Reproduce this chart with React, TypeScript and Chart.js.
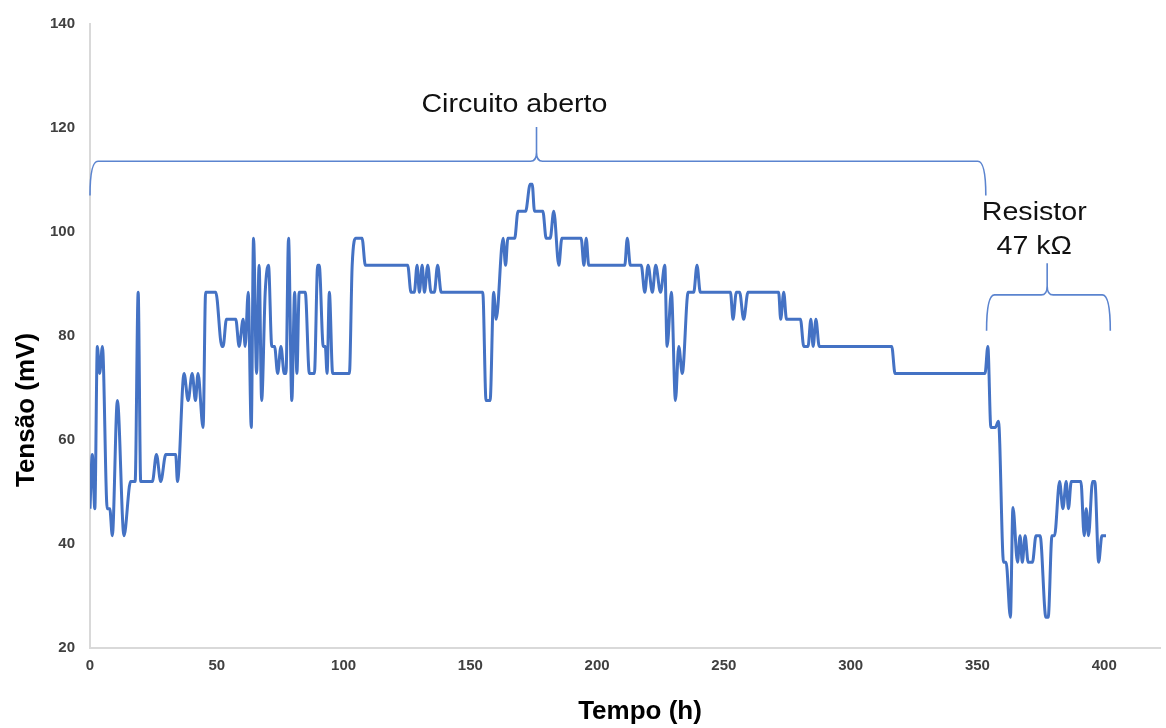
import React, { useEffect, useRef } from "react";
import { Chart, registerables } from "chart.js";

Chart.register(...registerables);

// Time (h)
const hours = [
  0, 0.9, 1.9, 2.9, 3.8, 4.9, 6.8, 7.8, 8.8, 10.8, 13.4, 16.0, 17.8, 19.0, 20.0,
  24.6, 26.2, 27.9, 29.9, 33.8, 34.5, 37.1, 38.7, 40.3, 41.6, 42.6, 44.6, 45.6,
  49.6, 52.0, 52.5, 53.8, 57.5, 58.8, 60.4, 61.2, 62.4, 63.6, 64.5, 65.7, 66.7,
  67.7, 69.1, 70.4, 71.7, 72.8, 74.0, 75.3, 76.6, 77.3, 78.3, 79.6, 80.7, 81.6,
  82.5, 84.9, 86.5, 88.5, 89.8, 90.4, 92.0, 92.8, 93.5, 94.4, 95.7, 102.3, 103.4,
  104.9, 107.3, 108.6, 125.3, 126.6, 127.9, 129.0, 129.9, 131.0, 131.9, 133.2,
  134.5, 135.8, 137.1, 138.5, 154.9, 156.2, 157.8, 159.2, 160.2, 162.9, 163.9,
  164.8, 167.5, 168.8, 171.8, 173.6, 174.4, 175.3, 178.6, 179.9, 181.5, 182.9,
  184.9, 186.1, 193.7, 194.8, 195.7, 196.7, 210.9, 211.9, 213.1, 217.4, 218.8,
  220.1, 221.8, 223.1, 225.0, 226.7, 227.6, 229.3, 230.9, 232.2, 233.6, 235.9,
  238.1, 239.4, 240.7, 252.6, 253.6, 254.9, 256.2, 257.8, 259.5, 271.6, 272.4,
  273.6, 274.7, 280.2, 281.5, 283.2, 284.3, 285.2, 286.3, 287.6, 316.2, 317.5,
  353.0, 354.1, 355.3, 357.0, 358.3, 360.3, 361.3, 363.0, 364.0, 365.8, 366.8,
  367.7, 368.8, 370.0, 371.7, 373.1, 374.7, 377.0, 377.9, 379.4, 380.4, 382.4,
  383.7, 385.0, 385.9, 387.0, 390.8, 392.1, 392.9, 393.8, 395.4, 396.3, 397.8,
  399.1, 400.7,
];

// Tensão (mV)
const tension = [
  46.8, 57.2, 46.8, 78.0, 72.8, 78.0, 46.8, 46.8, 41.6, 67.6, 41.6, 52.0, 52.0, 88.4, 52.0,
  52.0, 57.2, 52.0, 57.2, 57.2, 52.0, 72.8, 67.6, 72.8, 67.6, 72.8, 62.4, 88.4,
  88.4, 78.0, 78.0, 83.2, 83.2, 78.0, 83.2, 78.0, 88.4, 62.4, 98.8, 72.8, 93.6,
  67.6, 88.4, 93.6, 78.0, 78.0, 72.8, 78.0, 72.8, 72.8, 98.8, 67.6, 88.4, 72.8,
  88.4, 88.4, 72.8, 72.8, 93.6, 93.6, 78.0, 78.0, 72.8, 88.4, 72.8, 72.8, 93.6,
  98.8, 98.8, 93.6, 93.6, 88.4, 88.4, 93.6, 88.4, 93.6, 88.4, 93.6,
  88.4, 88.4, 93.6, 88.4, 88.4, 67.6, 67.6, 88.4, 83.2, 98.8, 93.6,
  98.8, 98.8, 104.0, 104.0, 109.2, 109.2, 104.0, 104.0, 98.8, 98.8, 104.0,
  93.6, 98.8, 98.8, 93.6, 98.8, 93.6, 93.6, 98.8, 93.6, 93.6, 88.4,
  93.6, 88.4, 93.6, 88.4, 93.6, 78.0, 88.4, 67.6, 78.0, 72.8, 88.4,
  88.4, 93.6, 88.4, 88.4, 83.2, 88.4, 88.4, 83.2, 88.4, 88.4, 83.2,
  88.4, 83.2, 83.2, 78.0, 78.0, 83.2, 78.0, 83.2, 78.0, 78.0, 72.8,
  72.8, 78.0, 62.4, 62.4, 63.6, 36.5, 36.5, 25.9, 47.0, 36.5, 41.6,
  36.5, 41.6, 36.5, 36.5, 41.6, 41.6, 25.9, 25.9, 41.6, 41.6, 52.0,
  46.8, 52.0, 46.8, 52.0, 52.0, 41.6, 46.8, 41.6, 52.0, 52.0, 36.5,
  41.6, 41.6,
];

const xTicks = [0, 50, 100, 150, 200, 250, 300, 350, 400];
const yTicks = [20, 40, 60, 80, 100, 120, 140];

// Annotation braces (data units): start, end, tip x, baseline, end y, tip y
const braceStarts = [0, 353.6];
const braceEnds = [353.3, 402.4];
const braceTips = [176.1, 377.5];
const braceBase = [113.6, 87.9];
const braceEndY = [107.0, 81.0];
const braceTipY = [120.2, 94.0];

const noteTexts = ["Circuito aberto", "Resistor", "47 kΩ"];
const noteX = [167.4, 372.4, 372.4];
const noteY = [124.5, 103.6, 97.1];

const FONT = "'Liberation Sans', Arial, Helvetica, sans-serif";

export default function App() {
  const ref = useRef<HTMLCanvasElement | null>(null);

  useEffect(() => {
    if (!ref.current) return;
    const annot = {
      id: "annot",
      afterDraw(chart: any) {
        const { ctx } = chart;
        const xs = chart.scales.x;
        const ys = chart.scales.y;
        ctx.save();
        ctx.strokeStyle = "#5B84CF";
        ctx.lineWidth = 1.6;
        for (let i = 0; i < braceStarts.length; i++) {
          const x0 = xs.getPixelForValue(braceStarts[i]);
          const x1 = xs.getPixelForValue(braceEnds[i]);
          const xt = xs.getPixelForValue(braceTips[i]);
          const yb = ys.getPixelForValue(braceBase[i]);
          const ye = ys.getPixelForValue(braceEndY[i]);
          const yt = ys.getPixelForValue(braceTipY[i]);
          ctx.beginPath();
          ctx.moveTo(x0, ye);
          ctx.quadraticCurveTo(x0, yb, x0 + 8, yb);
          ctx.lineTo(xt - 6, yb);
          ctx.quadraticCurveTo(xt, yb, xt, yb - 9);
          ctx.lineTo(xt, yt);
          ctx.moveTo(xt, yb - 9);
          ctx.quadraticCurveTo(xt, yb, xt + 6, yb);
          ctx.lineTo(x1 - 8, yb);
          ctx.quadraticCurveTo(x1, yb, x1, ye);
          ctx.stroke();
        }
        ctx.fillStyle = "#111";
        ctx.textAlign = "center";
        ctx.textBaseline = "middle";
        for (let i = 0; i < noteTexts.length; i++) {
          const px = xs.getPixelForValue(noteX[i]);
          const py = ys.getPixelForValue(noteY[i]);
          ctx.save();
          ctx.translate(px, py);
          ctx.scale(1.1, 1);
          ctx.font = `26px ${FONT}`;
          ctx.fillText(noteTexts[i], 0, 0);
          ctx.restore();
        }
        // axis titles
        ctx.fillStyle = "#000";
        ctx.font = `bold 26px ${FONT}`;
        ctx.fillText("Tempo (h)", 640, 712);
        ctx.translate(27, 410);
        ctx.rotate(-Math.PI / 2);
        ctx.fillText("Tensão (mV)", 0, 0);
        ctx.restore();
      },
    };

    const chart = new Chart(ref.current, {
      type: "line",
      data: {
        datasets: [
          {
            data: hours.map((h, i) => ({ x: h, y: tension[i] })),
            borderColor: "#4472C4",
            borderWidth: 3,
            pointRadius: 0,
            cubicInterpolationMode: "monotone",
            fill: false,
          },
        ],
      },
      options: {
        responsive: false,
        animation: false,
        devicePixelRatio: 1,
        layout: { padding: { left: 0, right: 6, top: 22, bottom: 0 } },
        plugins: { legend: { display: false }, tooltip: { enabled: false } },
        scales: {
          x: {
            type: "linear",
            min: 0,
            max: 422,
            afterBuildTicks: (s: any) => {
              s.ticks = xTicks.map((v) => ({ value: v }));
            },
            afterFit: (s: any) => {
              s.height = 80;
            },
            grid: { display: false, drawTicks: false },
            border: { display: true, color: "#d9d9d9", width: 2 },
            ticks: {
              padding: 9,
              color: "#404040",
              font: { family: FONT, size: 15, weight: "bold" },
            },
          },
          y: {
            type: "linear",
            min: 20,
            max: 140,
            afterBuildTicks: (s: any) => {
              s.ticks = yTicks.map((v) => ({ value: v }));
            },
            afterFit: (s: any) => {
              s.width = 90;
            },
            grid: { display: false, drawTicks: false },
            border: { display: true, color: "#d9d9d9", width: 2 },
            ticks: {
              padding: 15,
              color: "#404040",
              font: { family: FONT, size: 15, weight: "bold" },
            },
          },
        },
      },
      plugins: [annot],
    } as any);
    return () => chart.destroy();
  }, []);

  return (
    <div style={{ position: "absolute", left: 0, top: 0, width: 1166, height: 728, background: "#fff" }}>
      <canvas ref={ref} width={1166} height={728} />
    </div>
  );
}
